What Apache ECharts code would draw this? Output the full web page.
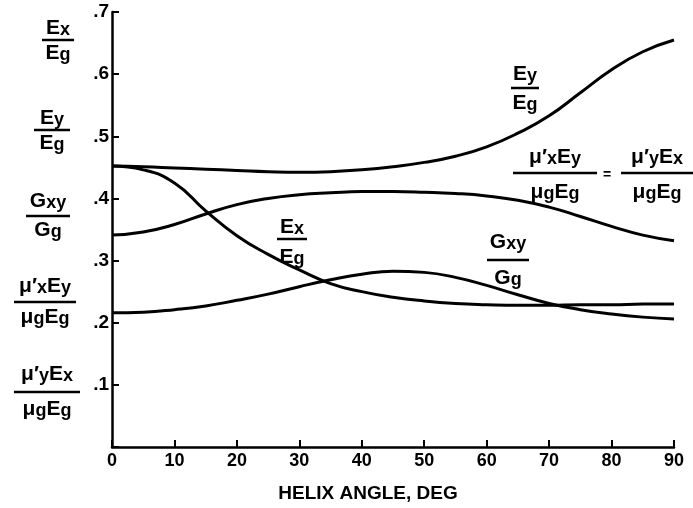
<!DOCTYPE html>
<html><head><meta charset="utf-8">
<script src="https://cdn.jsdelivr.net/npm/echarts@6/dist/echarts.min.js"></script>
<style>html,body{margin:0;padding:0;background:#fff}#c{width:693px;height:508px}</style>
</head><body><div id="c"></div>
<script>
const helixAngle = [0,5,10,15,20,25,30,35,40,45,50,55,60,65,70,75,80,85,90];
const eyOverEg   = [0.452,0.451,0.449,0.447,0.445,0.443,0.442,0.443,0.446,0.451,0.458,0.468,0.483,0.505,0.533,0.570,0.607,0.636,0.655];
const poisson    = [0.341,0.346,0.358,0.375,0.390,0.400,0.406,0.409,0.411,0.411,0.410,0.408,0.404,0.397,0.386,0.371,0.355,0.341,0.332];
const exOverEg   = [0.452,0.446,0.425,0.380,0.340,0.310,0.285,0.263,0.250,0.241,0.235,0.231,0.229,0.228,0.228,0.229,0.229,0.230,0.230];
const gxyOverGg  = [0.216,0.217,0.221,0.227,0.236,0.246,0.258,0.269,0.278,0.283,0.281,0.273,0.260,0.245,0.231,0.221,0.214,0.209,0.206];
const xTicks = [0,10,20,30,40,50,60,70,80,90];
const yTickLabels = ['', '.1', '.2', '.3', '.4', '.5', '.6', '.7'];

const FONT = 'Liberation Sans';
const rich = {
  n: {fontSize: 21, fontWeight: 'bold', fontFamily: FONT, fill: '#000', color:'#000'},
  s: {fontSize: 18, fontWeight: 'bold', fontFamily: FONT, fill: '#000', color:'#000', padding:[5,0,0,0]}
};
function pair(arr){ return helixAngle.map((x,i)=>[x,arr[i]]); }
function frac(cx, barY, num, den, halfW, dy1, dy2){
  return {
    type: 'group',
    children: [
      {type:'text', x: cx, y: barY - (dy1||12), style:{text:num, rich:rich, align:'center', verticalAlign:'middle', fill:'#000'}},
      {type:'line', shape:{x1:cx-halfW, y1:barY, x2:cx+halfW, y2:barY}, style:{stroke:'#000', lineWidth:2.5}},
      {type:'text', x: cx, y: barY + (dy2||13), style:{text:den, rich:rich, align:'center', verticalAlign:'middle', fill:'#000'}}
    ]
  };
}
const EX = '{n|E}{s|x}', EY = '{n|E}{s|y}', EG = '{n|E}{s|g}';
const GXY = '{n|G}{s|xy}', GG = '{n|G}{s|g}';
const MUXEY = '{n|μ\u2032}{s|x}{n|E}{s|y}', MUYEX = '{n|μ\u2032}{s|y}{n|E}{s|x}', MUGEG = '{n|μ}{s|g}{n|E}{s|g}';

const chart = echarts.init(document.getElementById('c'));
const lineStyle = {color:'#000', width:3};
const mk = (name, arr) => ({name, type:'line', data: pair(arr), smooth: 0.5, showSymbol:false, lineStyle, silent:true});
chart.setOption({
  animation: false,
  backgroundColor: '#fff',
  grid: {left:112, right:19, top:12, bottom:54},
  xAxis: {
    type:'value', min:0, max:90, interval:10,
    axisLine:{lineStyle:{color:'#000', width:2.5}},
    axisTick:{inside:true, length:7, lineStyle:{color:'#000', width:2}},
    splitLine:{show:false},
    axisLabel:{color:'#000', fontSize:18, fontWeight:'bold', fontFamily:FONT, margin:5,
      formatter: v => xTicks.includes(v) ? String(v) : ''},
    name:'HELIX ANGLE, DEG', nameLocation:'middle', nameGap:37,
    nameTextStyle:{color:'#000', fontSize:19, fontWeight:'bold', fontFamily:FONT, padding:[0,50,0,0]}
  },
  yAxis: {
    type:'value', min:0, max:0.7, interval:0.1,
    axisLine:{lineStyle:{color:'#000', width:2.5}},
    axisTick:{inside:true, length:7, lineStyle:{color:'#000', width:2}},
    splitLine:{show:false},
    axisLabel:{color:'#000', fontSize:19, fontWeight:'bold', fontFamily:FONT, margin:3,
      formatter: v => yTickLabels[Math.round(v*10)] || ''}
  },
  series: [
    mk('Ey/Eg', eyOverEg),
    mk('mu', poisson),
    mk('Ex/Eg', exOverEg),
    mk('Gxy/Gg', gxyOverGg)
  ],
  graphic: [
    frac(58, 40, EX, EG, 16),
    frac(52, 130, EY, EG, 18),
    frac(48, 216, GXY, GG, 22, 15, 14),
    frac(45, 302, MUXEY, MUGEG, 31, 16, 15),
    frac(47, 392, MUYEX, MUGEG, 33, 18, 17),
    frac(525, 88, EY, EG, 14, 14, 15),
    frac(555, 173, MUXEY, MUGEG, 42, 16, 19),
    {type:'text', x:607, y:175, style:{text:'=', fontSize:14, fontWeight:'bold', fontFamily:FONT, fill:'#000', align:'center', verticalAlign:'middle'}},
    frac(657, 173, MUYEX, MUGEG, 36, 16, 19),
    frac(292, 239, EX, EG, 15, 12, 18),
    frac(508, 260, GXY, GG, 21, 18, 18)
  ]
});
</script></body></html>
